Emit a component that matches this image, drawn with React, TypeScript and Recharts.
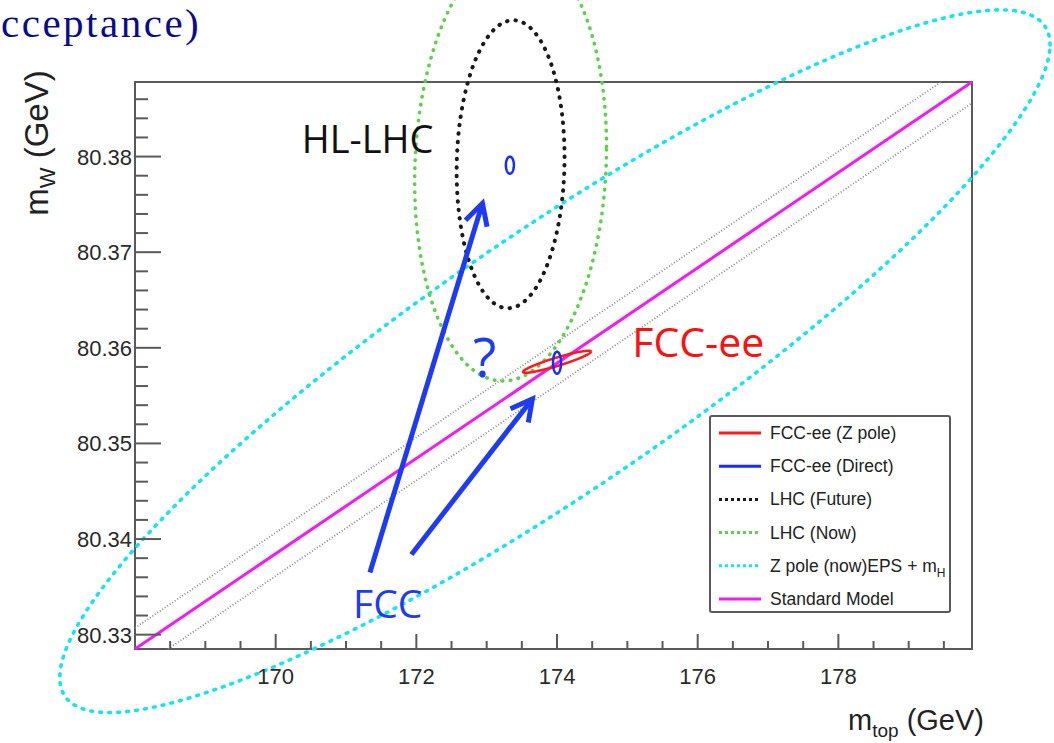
import {
  ComposedChart,
  Line,
  XAxis,
  YAxis,
  ReferenceArea,
  ReferenceLine,
  ReferenceDot,
  Legend,
  Label,
} from 'recharts';

// axis ranges (GeV)
const MTOP_RANGE = [168, 179.9];
const MW_RANGE = [80.3285, 80.3878];

const X_TICKS = [
  168.5, 169, 169.5, 170, 170.5, 171, 171.5, 172, 172.5, 173, 173.5, 174, 174.5, 175, 175.5,
  176, 176.5, 177, 177.5, 178, 178.5, 179, 179.5,
];
const X_LABELS = [170, 172, 174, 176, 178];
const Y_TICKS = [
  80.33, 80.332, 80.334, 80.336, 80.338, 80.34, 80.342, 80.344, 80.346, 80.348, 80.35, 80.352,
  80.354, 80.356, 80.358, 80.36, 80.362, 80.364, 80.366, 80.368, 80.37, 80.372, 80.374, 80.376,
  80.378, 80.38, 80.382, 80.384, 80.386,
];
const Y_LABELS = [80.33, 80.34, 80.35, 80.36, 80.37, 80.38];

// Standard Model prediction and the edges of its band
const SM_MTOP = [168, 179.9];
const SM_MW = [80.3285, 80.3878];
const BAND_HI_MTOP = [168, 179.46];
const BAND_HI_MW = [80.3307, 80.3878];
const BAND_LO_MTOP = [168.47, 179.9];
const BAND_LO_MW = [80.3285, 80.3856];

// error contours: centre, half widths, correlation
const CONTOUR_KEYS = ['zpoleNow', 'lhcNow', 'lhcFuture', 'fccZpole', 'fccDirect', 'fccDirectHL'];
const CONTOUR_MTOP = [173.97, 173.34, 173.34, 174.0, 174.0, 173.33];
const CONTOUR_MW = [80.3586, 80.3792, 80.3792, 80.35854, 80.35844, 80.3791];
const CONTOUR_DMTOP = [7.04, 1.364, 0.767, 0.483, 0.057, 0.057];
const CONTOUR_DMW = [0.03675, 0.02267, 0.01506, 0.00115, 0.00115, 0.00089];
const CONTOUR_RHO = [0.9, 0.08, 0.05, 0.92, 0, 0];

const LEGEND_LABELS = [
  'FCC-ee (Z pole)',
  'FCC-ee (Direct)',
  'LHC (Future)',
  'LHC (Now)',
  'Z pole (now)EPS + m',
  'Standard Model',
];
const LEGEND_SUBS = ['', '', '', '', 'H', ''];
const LEGEND_KEYS = ['fccZpole', 'fccDirect', 'lhcFuture', 'lhcNow', 'zpoleNow', 'sm'];

// annotations
const NOTE_TEXT = ['HL-LHC', 'FCC-ee', '?', 'FCC'];
const NOTE_MTOP = [170.37, 175.07, 172.97, 171.1];
const NOTE_MW = [80.38037, 80.35907, 80.35697, 80.33178];

const ARROW_FROM_MTOP = [171.34, 171.93];
const ARROW_FROM_MW = [80.33651, 80.33839];
const ARROW_TO_MTOP = [172.94, 173.65];
const ARROW_TO_MW = [80.37512, 80.35466];

type Style = { stroke: string; width: number; dash?: string; cap?: 'round' | 'butt' };
const STYLES: Record<string, Style> = {
  zpoleNow: { stroke: '#19e3ee', width: 3.6, dash: '1.8 7.2', cap: 'round' },
  lhcNow: { stroke: '#5fd04c', width: 3.6, dash: '0.5 7.5', cap: 'round' },
  lhcFuture: { stroke: '#1a1a1a', width: 4, dash: '0.5 8', cap: 'round' },
  fccZpole: { stroke: '#ff1a1a', width: 2.5 },
  fccDirect: { stroke: '#1a2bff', width: 2.5 },
  fccDirectHL: { stroke: '#1a2bff', width: 2.5 },
  sm: { stroke: '#f01cf0', width: 3 },
  band: { stroke: '#888', width: 1.8, dash: '1 2' },
};

const NOTE_STYLE = [
  { fill: '#111', size: 38, anchor: 'start' },
  { fill: '#ff1010', size: 41, anchor: 'start' },
  { fill: '#1f3bf2', size: 54, anchor: 'middle' },
  { fill: '#1f3bf2', size: 39, anchor: 'start' },
];

const AXIS_COLOR = '#5a5a5a';
const SANS = '"Liberation Sans", Arial, Helvetica, sans-serif';
const NOTE_FONT = '"Open Sans", "Noto Sans", sans-serif';

type Pt = { x: number; y: number };

const toPts = (xs: number[], ys: number[]): Pt[] => xs.map((x, i) => ({ x, y: ys[i] }));

// closed contour for a correlated 2D error ellipse
function contour(i: number, n = 180): Pt[] {
  const rho = CONTOUR_RHO[i];
  const k = Math.sqrt(1 - rho * rho);
  const pts: Pt[] = [];
  for (let j = 0; j <= n; j++) {
    const t = (2 * Math.PI * j) / n;
    const c = Math.cos(t);
    pts.push({
      x: CONTOUR_MTOP[i] + CONTOUR_DMTOP[i] * c,
      y: CONTOUR_MW[i] + CONTOUR_DMW[i] * (rho * c + k * Math.sin(t)),
    });
  }
  return pts;
}

const isMajor = (v: number, majors: number[]) => majors.some((m) => Math.abs(m - v) < 1e-6);

function XTick(props: any) {
  const { x, y, payload } = props;
  const major = isMajor(payload.value, X_LABELS);
  return (
    <g>
      <line x1={x} y1={y} x2={x} y2={y - (major ? 15 : 8)} stroke={AXIS_COLOR} strokeWidth={2} />
      {major && (
        <text x={x} y={y + 35} textAnchor="middle" fontSize={22} fontFamily={SANS} fill="#2a2a2a">
          {Math.round(payload.value)}
        </text>
      )}
    </g>
  );
}

function YTick(props: any) {
  const { x, y, payload } = props;
  const major = isMajor(payload.value, Y_LABELS);
  return (
    <g>
      <line x1={x} y1={y} x2={x + (major ? 26 : 13)} y2={y} stroke={AXIS_COLOR} strokeWidth={2} />
      {major && (
        <text x={x - 3} y={y} dy="0.36em" textAnchor="end" fontSize={22} fontFamily={SANS} fill="#2a2a2a">
          {payload.value.toFixed(2)}
        </text>
      )}
    </g>
  );
}

function Arrow(props: any) {
  const { x1, y1, x2, y2 } = props;
  const back = Math.atan2(y1 - y2, x1 - x2);
  const len = 24;
  const spread = (28 * Math.PI) / 180;
  const a = [x2 + len * Math.cos(back + spread), y2 + len * Math.sin(back + spread)];
  const b = [x2 + len * Math.cos(back - spread), y2 + len * Math.sin(back - spread)];
  return (
    <g>
      <line x1={x1} y1={y1} x2={x2} y2={y2} stroke="#1f3bf2" strokeWidth={5} />
      <polyline
        points={`${a[0]},${a[1]} ${x2},${y2} ${b[0]},${b[1]}`}
        fill="none"
        stroke="#1f3bf2"
        strokeWidth={5}
        strokeLinejoin="miter"
      />
    </g>
  );
}

function LegendBox() {
  return (
    <svg width={242} height={198} style={{ display: 'block' }}>
      <rect x={1} y={1} width={240} height={196} fill="#fff" stroke={AXIS_COLOR} strokeWidth={2} rx={2} />
      {LEGEND_LABELS.map((label, i) => {
        const s = STYLES[LEGEND_KEYS[i]];
        const cy = 18 + i * 33.2;
        return (
          <g key={label}>
            <line
              x1={10}
              x2={52}
              y1={cy}
              y2={cy}
              stroke={s.stroke}
              strokeWidth={3}
              strokeDasharray={s.dash ? '3 3' : undefined}
            />
            <text x={61} y={cy + 6} fontSize={17.5} fontFamily={SANS} fill="#222">
              {label}
              {LEGEND_SUBS[i] && (
                <tspan fontSize={12} dy={5}>
                  {LEGEND_SUBS[i]}
                </tspan>
              )}
            </text>
          </g>
        );
      })}
    </svg>
  );
}

export default function App() {
  return (
    <div
      style={{
        position: 'absolute',
        left: 0,
        top: 0,
        width: 1054,
        height: 743,
        background: '#fff',
        overflow: 'hidden',
      }}
    >
      <style>{`.recharts-surface [clip-path] { clip-path: none !important; }`}</style>
      <ComposedChart width={1054} height={743} margin={{ top: 82, right: 82, bottom: 93, left: 134 }}>
        <XAxis
          dataKey="x"
          type="number"
          domain={MTOP_RANGE}
          allowDataOverflow
          ticks={X_TICKS}
          interval={0}
          tick={<XTick />}
          tickLine={false}
          axisLine={false}
          tickSize={0}
          tickMargin={0}
          height={1}
        >
          <Label
            content={(p: any) => {
              const vb = p.viewBox;
              return (
                <text x={984} y={vb.y + 81} textAnchor="end" fontFamily={SANS} fontSize={29} fill="#222">
                  m
                  <tspan fontSize={19} dy={7}>
                    top
                  </tspan>
                  <tspan dy={-7}> (GeV)</tspan>
                </text>
              );
            }}
          />
        </XAxis>
        <YAxis
          dataKey="y"
          type="number"
          domain={MW_RANGE}
          allowDataOverflow
          ticks={Y_TICKS}
          interval={0}
          tick={<YTick />}
          tickLine={false}
          axisLine={false}
          tickSize={0}
          tickMargin={0}
          width={1}
        >
          <Label
            content={(p: any) => {
              const vb = p.viewBox;
              const cx = 48;
              const cy = vb.y + 61;
              return (
                <text
                  x={cx}
                  y={cy}
                  transform={`rotate(-90 ${cx} ${cy})`}
                  textAnchor="middle"
                  fontFamily={SANS}
                  fontSize={33}
                  fill="#222"
                >
                  m
                  <tspan fontSize={22} dy={7}>
                    W
                  </tspan>
                  <tspan dy={-7}> (GeV)</tspan>
                </text>
              );
            }}
          />
        </YAxis>

        <ReferenceArea
          x1={MTOP_RANGE[0]}
          x2={MTOP_RANGE[1]}
          y1={MW_RANGE[0]}
          y2={MW_RANGE[1]}
          fill="none"
          fillOpacity={0}
          stroke={AXIS_COLOR}
          strokeWidth={2}
        />

        <Line
          data={toPts(BAND_HI_MTOP, BAND_HI_MW)}
          dataKey="y"
          type="linear"
          stroke={STYLES.band.stroke}
          strokeWidth={STYLES.band.width}
          strokeDasharray={STYLES.band.dash}
          dot={false}
          activeDot={false}
          isAnimationActive={false}
        />
        <Line
          data={toPts(BAND_LO_MTOP, BAND_LO_MW)}
          dataKey="y"
          type="linear"
          stroke={STYLES.band.stroke}
          strokeWidth={STYLES.band.width}
          strokeDasharray={STYLES.band.dash}
          dot={false}
          activeDot={false}
          isAnimationActive={false}
        />
        <Line
          data={toPts(SM_MTOP, SM_MW)}
          dataKey="y"
          type="linear"
          stroke={STYLES.sm.stroke}
          strokeWidth={STYLES.sm.width}
          dot={false}
          activeDot={false}
          isAnimationActive={false}
        />

        {CONTOUR_KEYS.map((key, i) => {
          const s = STYLES[key];
          return (
            <Line
              key={key}
              data={contour(i)}
              dataKey="y"
              type="linear"
              stroke={s.stroke}
              strokeWidth={s.width}
              strokeDasharray={s.dash}
              strokeLinecap={s.cap ?? 'butt'}
              dot={false}
              activeDot={false}
              isAnimationActive={false}
            />
          );
        })}

        {ARROW_FROM_MTOP.map((x, i) => (
          <ReferenceLine
            key={`arrow-${i}`}
            segment={[
              { x, y: ARROW_FROM_MW[i] },
              { x: ARROW_TO_MTOP[i], y: ARROW_TO_MW[i] },
            ]}
            ifOverflow="visible"
            shape={(p: any) => <Arrow {...p} />}
          />
        ))}

        {NOTE_TEXT.map((text, i) => (
          <ReferenceDot
            key={text}
            x={NOTE_MTOP[i]}
            y={NOTE_MW[i]}
            r={0}
            ifOverflow="visible"
            shape={(p: any) => (
              <text
                x={p.cx}
                y={p.cy}
                textAnchor={NOTE_STYLE[i].anchor as any}
                fontFamily={NOTE_FONT}
                fontSize={NOTE_STYLE[i].size}
                fill={NOTE_STYLE[i].fill}
              >
                {text}
              </text>
            )}
          />
        ))}

        <Legend
          layout="horizontal"
          verticalAlign="middle"
          align="center"
          width={242}
          height={198}
          wrapperStyle={{ left: 709, top: 415, width: 242, height: 198 }}
          content={() => <LegendBox />}
        />
      </ComposedChart>

      <svg width={300} height={60} style={{ position: 'absolute', left: 0, top: 0, pointerEvents: 'none' }}>
        <text
          x={1}
          y={37}
          textAnchor="start"
          fontFamily='"Liberation Serif", "Times New Roman", serif'
          fontSize={41}
          letterSpacing={2.5}
          fill="#0c0c8a"
        >
          cceptance)
        </text>
      </svg>
    </div>
  );
}
